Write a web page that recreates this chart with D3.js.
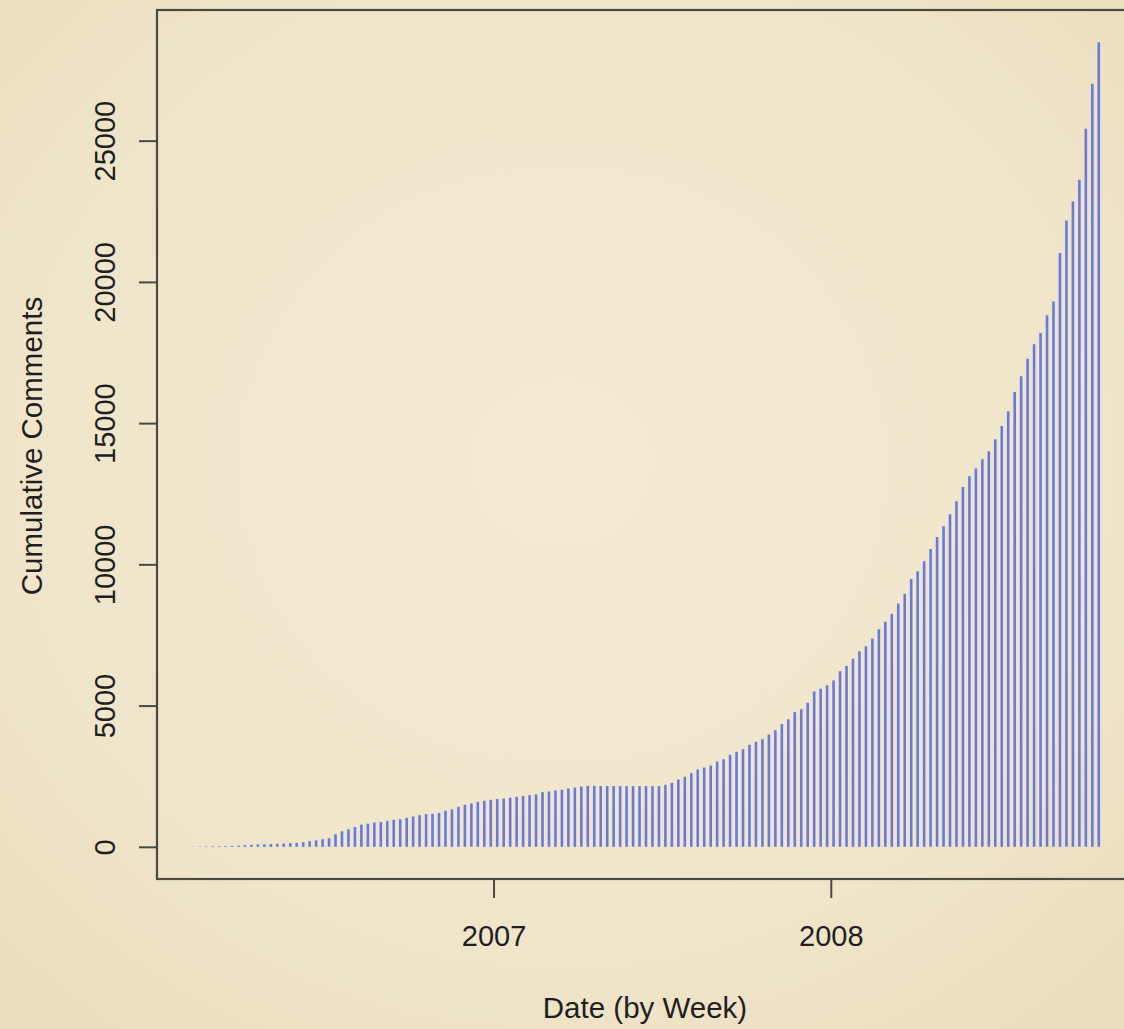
<!DOCTYPE html>
<html lang="en">
<head>
    <meta charset="UTF-8">
    <title>Cumulative Comments by Week</title>
    <script src="https://d3js.org/d3.v7.min.js"></script>
    <style>
        html, body { margin: 0; padding: 0; overflow: hidden; }
        text { font-family: "Liberation Sans", Arial, sans-serif; fill: #1f1f1f; }
    </style>
</head>
<body>

<div id="chart"></div>

<script>
    // weekly cumulative comment counts, first week starts 2006-02-10
    var firstWeek = new Date(2006, 1, 10);
    var comments = [
        5, 10, 15, 20, 25, 30, 35, 45, 60, 70,
        85, 90, 100, 105, 115, 130, 140, 165, 200, 230,
        270, 300, 445, 550, 620, 700, 785, 820, 860, 880,
        920, 956, 980, 1027, 1074, 1121, 1157, 1168, 1204, 1275,
        1322, 1416, 1487, 1534, 1593, 1628, 1664, 1690, 1711, 1740,
        1770, 1800, 1830, 1860, 1935, 1960, 1994, 2020, 2065, 2100,
        2136, 2155, 2160, 2150, 2150, 2150, 2150, 2150, 2150, 2150,
        2150, 2150, 2150, 2195, 2266, 2384, 2478, 2608, 2738, 2808,
        2879, 3021, 3103, 3257, 3363, 3457, 3611, 3717, 3811, 3977,
        4130, 4342, 4519, 4767, 4873, 5100, 5500, 5595, 5720, 5890,
        6217, 6405, 6660, 6920, 7100, 7373, 7700, 7968, 8245, 8612,
        8955, 9478, 9760, 10110, 10546, 10971, 11348, 11773, 12233, 12739,
        13117, 13390, 13720, 14002, 14427, 14899, 15418, 16101, 16656, 17282,
        17789, 18189, 18815, 19310, 21019, 22176, 22849, 23616, 25421, 27013,
        28486
    ];
    var yTicks = [0, 5000, 10000, 15000, 20000, 25000];
    var xTickYears = [2007, 2008];

    var weeks = comments.map(function (v, i) { return d3.timeDay.offset(firstWeek, 7 * i); });
    var data = comments.map(function (v, i) { return { date: weeks[i], value: v }; });

    var width = 1124, height = 1029;
    // plot region (R style: box runs past the right edge of the picture)
    var plot = { left: 157, right: 1135, top: 10, bottom: 879 };

    var svg = d3.select("#chart").append("svg")
        .attr("width", width)
        .attr("height", height);

    // paper background with a soft vignette
    var grad = svg.append("defs").append("radialGradient")
        .attr("id", "paper")
        .attr("cx", "50%").attr("cy", "45%").attr("r", "75%");
    grad.append("stop").attr("offset", "0%").attr("stop-color", "#f2ead3");
    grad.append("stop").attr("offset", "65%").attr("stop-color", "#efe5ca");
    grad.append("stop").attr("offset", "100%").attr("stop-color", "#eadcbb");
    svg.append("rect").attr("width", width).attr("height", height).attr("fill", "url(#paper)");

    // R pads the data range by 4% on each side
    var t0 = +weeks[0], t1 = +weeks[weeks.length - 1], pad = (t1 - t0) * 0.04;
    var x = d3.scaleTime()
        .domain([new Date(t0 - pad), new Date(t1 + pad)])
        .range([plot.left, plot.right]);

    var yMax = d3.max(comments), yPad = yMax * 0.04;
    var y = d3.scaleLinear()
        .domain([-yPad, yMax + yPad])
        .range([plot.bottom, plot.top]);

    // type = "h" vertical lines
    svg.append("g").selectAll("line")
        .data(data)
        .enter().append("line")
        .attr("x1", function (d) { return x(d.date); })
        .attr("x2", function (d) { return x(d.date); })
        .attr("y1", y(0))
        .attr("y2", function (d) { return y(d.value); })
        .attr("stroke", "#6879e0")
        .attr("stroke-width", 2.6);

    // box
    svg.append("rect")
        .attr("x", plot.left).attr("y", plot.top)
        .attr("width", plot.right - plot.left).attr("height", plot.bottom - plot.top)
        .attr("fill", "none")
        .attr("stroke", "#4a4a44")
        .attr("stroke-width", 2.2);

    // y axis
    var yAxis = d3.axisLeft(y)
        .tickValues(yTicks)
        .tickSize(18)
        .tickFormat(d3.format("d"));
    var gy = svg.append("g")
        .attr("transform", "translate(" + plot.left + ",0)")
        .call(yAxis);
    gy.select(".domain").remove();
    gy.selectAll(".tick line").attr("stroke", "#4a4a44").attr("stroke-width", 2);
    gy.selectAll(".tick text")
        .attr("x", null).attr("dy", null)
        .attr("transform", "translate(-42,0) rotate(-90)")
        .attr("text-anchor", "middle")
        .style("font-size", "29px")
        .style("font-family", "'Liberation Sans', Arial, sans-serif")
        .attr("fill", "#1f1f1f");

    // x axis
    var xAxis = d3.axisBottom(x)
        .tickValues(xTickYears.map(function (yr) { return new Date(yr, 0, 1); }))
        .tickSize(19)
        .tickFormat(d3.timeFormat("%Y"));
    var gx = svg.append("g")
        .attr("transform", "translate(0," + plot.bottom + ")")
        .call(xAxis);
    gx.select(".domain").remove();
    gx.selectAll(".tick line").attr("stroke", "#4a4a44").attr("stroke-width", 2);
    gx.selectAll(".tick text")
        .attr("y", 67).attr("dy", null)
        .style("font-size", "29px")
        .style("font-family", "'Liberation Sans', Arial, sans-serif")
        .attr("fill", "#1f1f1f");

    // axis titles
    svg.append("text")
        .attr("x", 645).attr("y", 1018)
        .attr("text-anchor", "middle")
        .style("font-size", "29.5px")
        .text("Date (by Week)");

    svg.append("text")
        .attr("transform", "translate(42,446) rotate(-90)")
        .attr("text-anchor", "middle")
        .style("font-size", "29.5px")
        .text("Cumulative Comments");
</script>

</body>
</html>
